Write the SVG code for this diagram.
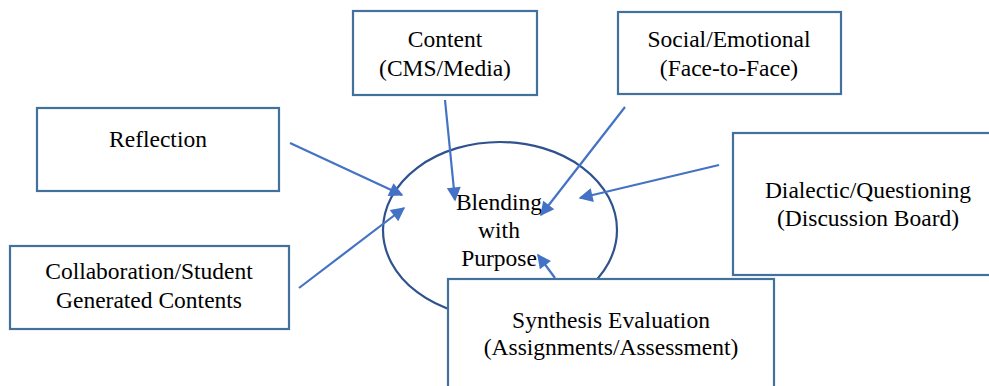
<svg xmlns="http://www.w3.org/2000/svg" width="989" height="386" viewBox="0 0 989 386">
<defs>
<style>
.box{fill:#fff;stroke:#41719C;stroke-width:2.2}
.t{font-family:"Liberation Serif","Times New Roman",serif;font-size:23.5px;fill:#000;text-anchor:middle}
.c{stroke:#4472C4;stroke-width:2.2;fill:none;marker-end:url(#ah)}
</style>
<marker id="ah" viewBox="0 0 10 10" refX="9" refY="5" markerWidth="7" markerHeight="7" markerUnits="userSpaceOnUse" orient="auto">
<path d="M0,0 L10,5 L0,10 z" fill="#4472C4"/>
</marker>
<marker id="ah2" viewBox="0 0 10 10" refX="9" refY="5" markerWidth="16" markerHeight="14" markerUnits="userSpaceOnUse" orient="auto">
<path d="M0,0 L10,5 L0,10 z" fill="#4472C4"/>
</marker>
</defs>
<rect width="989" height="386" fill="#fff"/>
<g id="center">
<ellipse cx="500" cy="230" rx="117" ry="88" fill="#fff" stroke="#2F528F" stroke-width="2.2"/>
<text class="t" x="499" y="210">Blending</text>
<text class="t" x="499" y="238">with</text>
<text class="t" x="499" y="266">Purpose</text>
</g>
<g id="content">
<rect class="box" x="353" y="11" width="184" height="84"/>
<text class="t" x="445" y="47">Content</text>
<text class="t" x="445" y="76">(CMS/Media)</text>
</g>
<g id="social">
<rect class="box" x="618" y="12" width="223" height="82"/>
<text class="t" x="729" y="47">Social/Emotional</text>
<text class="t" x="729" y="76">(Face-to-Face)</text>
</g>
<g id="reflection">
<rect class="box" x="37" y="108" width="242" height="83"/>
<text class="t" x="158" y="147">Reflection</text>
</g>
<g id="collaboration">
<rect class="box" x="10" y="246" width="279" height="83"/>
<text class="t" x="149" y="279">Collaboration/Student</text>
<text class="t" x="149" y="308">Generated Contents</text>
</g>
<g id="dialectic">
<rect class="box" x="733" y="133" width="270" height="142"/>
<text class="t" x="868" y="198">Dialectic/Questioning</text>
<text class="t" x="868" y="226">(Discussion Board)</text>
</g>
<g id="synthesis">
<rect class="box" x="448" y="279" width="326" height="120"/>
<text class="t" x="611" y="328">Synthesis Evaluation</text>
<text class="t" x="611" y="355">(Assignments/Assessment)</text>
</g>
<g id="connectors">
<line class="c" style="marker-end:url(#ah2)" x1="290" y1="143" x2="402" y2="195"/>
<line class="c" style="marker-end:url(#ah2)" x1="299" y1="288" x2="404" y2="208"/>
<line class="c" style="marker-end:url(#ah2)" x1="445" y1="100" x2="455" y2="200"/>
<line class="c" style="marker-end:url(#ah2)" x1="625" y1="107" x2="541" y2="215"/>
<line class="c" style="marker-end:url(#ah2)" x1="719" y1="165" x2="580" y2="198"/>
<line class="c" style="marker-end:url(#ah2)" x1="555" y1="278" x2="538" y2="255"/>
</g>
</svg>
